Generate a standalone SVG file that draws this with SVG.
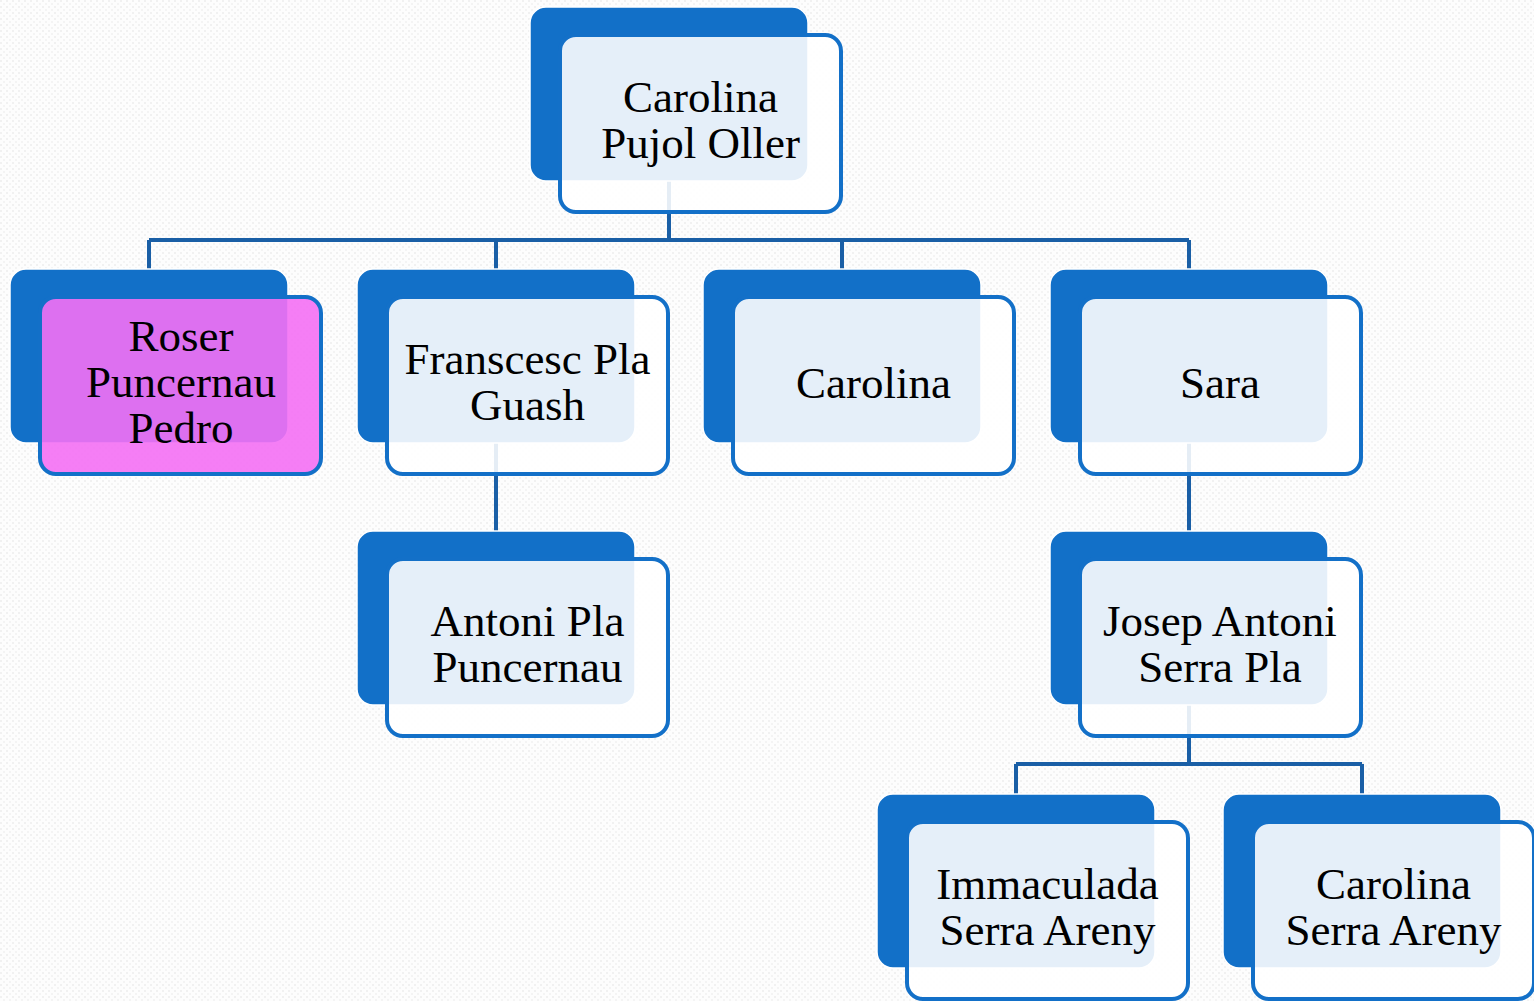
<svg xmlns="http://www.w3.org/2000/svg" width="1534" height="1001" viewBox="0 0 1534 1001">
<defs>
<pattern id="bg" width="6" height="6" patternUnits="userSpaceOnUse">
<rect width="6" height="6" fill="#FDFDFD"/>
<rect x="0" y="0" width="2" height="2" fill="#F1F1F1"/>
<rect x="3" y="3" width="2" height="2" fill="#F4F4F4"/>
</pattern>
<style>
.back{fill:#1270C8;stroke:#FFFFFF;stroke-width:1.5}
.front{fill:#FFFFFF;fill-opacity:0.89;stroke:#1370C8;stroke-width:4}
.pink{fill:#F470F4;fill-opacity:0.9;stroke:#1370C8;stroke-width:4}
.lbl{font-family:"Liberation Serif","Times New Roman",serif;font-size:45px;fill:#000000;text-anchor:middle}
.conn{fill:none;stroke:#1A5FA6;stroke-width:4}
</style>
</defs>
<rect width="1534" height="1001" fill="url(#bg)"/>
<g id="connectors">
<path class="conn" d="M669 181V240M149 240H1189M149 240V269M496 240V269M842 240V269M1189 240V269"/>
<path class="conn" d="M496 443V531"/>
<path class="conn" d="M1189 443V531"/>
<path class="conn" d="M1189 705V764M1016 764H1362M1016 764V794M1362 764V794"/>
</g>
<g id="node-root">
<rect class="back" x="530" y="7" width="278" height="174" rx="16"/>
<rect class="front" x="560" y="35" width="281" height="177" rx="16"/>
<text class="lbl" x="700.5" y="112">Carolina</text>
<text class="lbl" x="700.5" y="158">Pujol Oller</text>
</g>
<g id="node-roser">
<rect class="back" x="10" y="269" width="278" height="174" rx="16"/>
<rect class="pink" x="40" y="297" width="281" height="177" rx="16"/>
<text class="lbl" x="181" y="351">Roser</text>
<text class="lbl" x="181" y="397">Puncernau</text>
<text class="lbl" x="181" y="443">Pedro</text>
</g>
<g id="node-franscesc">
<rect class="back" x="357" y="269" width="278" height="174" rx="16"/>
<rect class="front" x="387" y="297" width="281" height="177" rx="16"/>
<text class="lbl" x="527.5" y="374">Franscesc Pla</text>
<text class="lbl" x="527.5" y="420">Guash</text>
</g>
<g id="node-carolina">
<rect class="back" x="703" y="269" width="278" height="174" rx="16"/>
<rect class="front" x="733" y="297" width="281" height="177" rx="16"/>
<text class="lbl" x="873.5" y="398">Carolina</text>
</g>
<g id="node-sara">
<rect class="back" x="1050" y="269" width="278" height="174" rx="16"/>
<rect class="front" x="1080" y="297" width="281" height="177" rx="16"/>
<text class="lbl" x="1220" y="398">Sara</text>
</g>
<g id="node-antoni">
<rect class="back" x="357" y="531" width="278" height="174" rx="16"/>
<rect class="front" x="387" y="559" width="281" height="177" rx="16"/>
<text class="lbl" x="527.5" y="636">Antoni Pla</text>
<text class="lbl" x="527.5" y="682">Puncernau</text>
</g>
<g id="node-josep">
<rect class="back" x="1050" y="531" width="278" height="174" rx="16"/>
<rect class="front" x="1080" y="559" width="281" height="177" rx="16"/>
<text class="lbl" x="1220" y="636">Josep Antoni</text>
<text class="lbl" x="1220" y="682">Serra Pla</text>
</g>
<g id="node-immaculada">
<rect class="back" x="877" y="794" width="278" height="174" rx="16"/>
<rect class="front" x="907" y="822" width="281" height="177" rx="16"/>
<text class="lbl" x="1047.5" y="899">Immaculada</text>
<text class="lbl" x="1047.5" y="945">Serra Areny</text>
</g>
<g id="node-carolina-serra">
<rect class="back" x="1223" y="794" width="278" height="174" rx="16"/>
<rect class="front" x="1253" y="822" width="281" height="177" rx="16"/>
<text class="lbl" x="1393.5" y="899">Carolina</text>
<text class="lbl" x="1393.5" y="945">Serra Areny</text>
</g>
</svg>
